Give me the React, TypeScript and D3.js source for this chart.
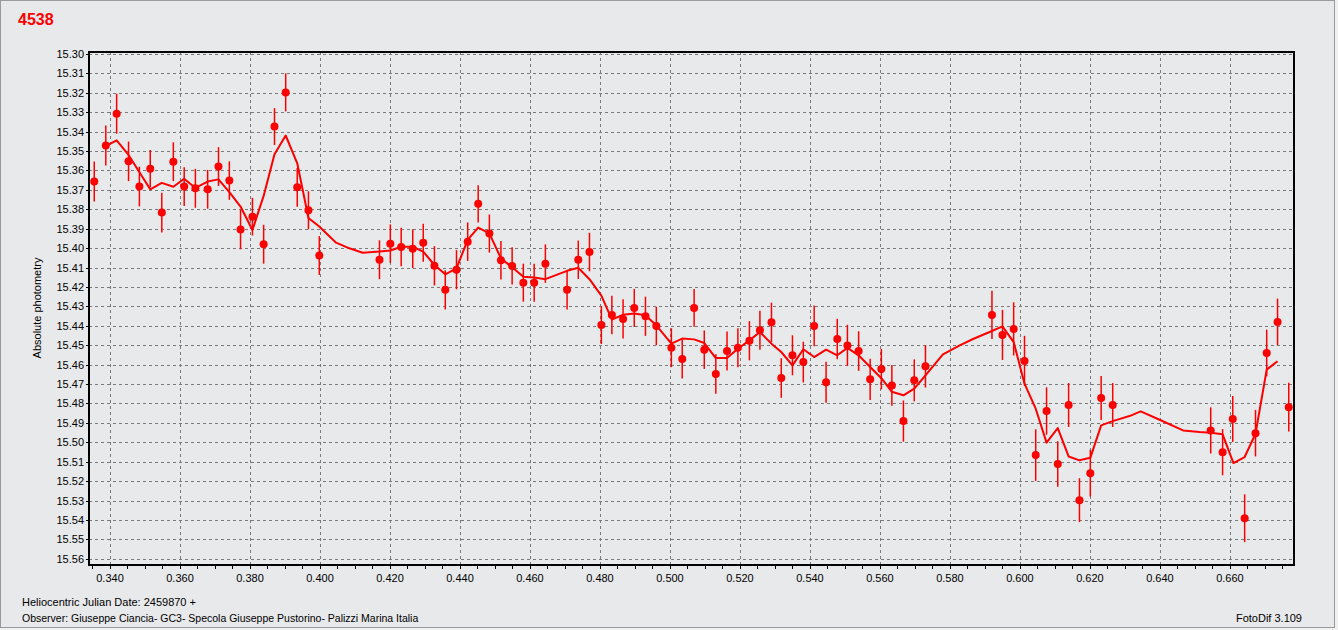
import * as d3 from "d3";

// heliocentric JD offsets (+2459870) and absolute magnitudes
const hjd = [
  0.3355, 0.3388, 0.3419, 0.3453, 0.3484, 0.3515, 0.3548, 0.3581, 0.3612, 0.3644, 0.3679,
  0.371, 0.3741, 0.3773, 0.3807, 0.3839, 0.387, 0.3902, 0.3935, 0.3967, 0.3998,
  0.417, 0.4201, 0.4232, 0.4265, 0.4295, 0.4327, 0.4358, 0.439, 0.4422, 0.4452,
  0.4484, 0.4517, 0.4549, 0.4581, 0.4612, 0.4644, 0.4706, 0.4738, 0.477, 0.4804,
  0.4834, 0.4866, 0.4898, 0.493, 0.4961, 0.5004, 0.5035, 0.5069, 0.5098, 0.5131,
  0.5163, 0.5194, 0.5227, 0.5257, 0.529, 0.5318, 0.535, 0.5381, 0.5412, 0.5446,
  0.5478, 0.5507, 0.5539, 0.5572, 0.5604, 0.5634, 0.5667, 0.5698, 0.573,
  0.592, 0.595, 0.5982, 0.6013, 0.6045, 0.6076, 0.6108, 0.6139, 0.617, 0.6201, 0.6232, 0.6265,
  0.6545, 0.6579, 0.6608, 0.6642, 0.6673, 0.6705, 0.6736, 0.6768,
];

const mag = [
  15.3657, 15.3472, 15.3308, 15.3553, 15.3683, 15.3591, 15.3817, 15.3555, 15.3683, 15.3692, 15.3697,
  15.358, 15.3652, 15.3904, 15.3838, 15.398, 15.3374, 15.3198, 15.3687, 15.3805, 15.4038,
  15.406, 15.3977, 15.3994, 15.4003, 15.3972, 15.4091, 15.4215, 15.4111, 15.3967, 15.3772,
  15.3925, 15.4063, 15.4092, 15.4178, 15.4178, 15.408, 15.4215, 15.406, 15.402, 15.4396,
  15.4344, 15.4365, 15.4308, 15.4351, 15.4401, 15.4513, 15.4571, 15.4308, 15.4523, 15.4648,
  15.453, 15.4513, 15.4477, 15.4423, 15.4382, 15.4669, 15.4552, 15.4587, 15.4401, 15.4691,
  15.4468, 15.4501, 15.453, 15.4676, 15.4623, 15.4707, 15.4891, 15.4681, 15.4609,
  15.4344, 15.4447, 15.4416, 15.4581, 15.5066, 15.4839, 15.5112, 15.4808, 15.5298, 15.5159, 15.4772, 15.4808,
  15.4939, 15.5051, 15.488, 15.5391, 15.4953, 15.454, 15.438, 15.4819,
];

const err = [
  0.0103, 0.0103, 0.0103, 0.0102, 0.0102, 0.0096, 0.0102, 0.01, 0.01, 0.01, 0.01,
  0.01, 0.0099, 0.0102, 0.0097, 0.01, 0.0095, 0.0098, 0.01, 0.0098, 0.01,
  0.01, 0.0099, 0.0099, 0.01, 0.0098, 0.0101, 0.0101, 0.0101, 0.0099, 0.0096,
  0.0098, 0.0099, 0.0096, 0.0098, 0.0098, 0.0099, 0.0101, 0.0099, 0.0099, 0.0098,
  0.0099, 0.0101, 0.0098, 0.0101, 0.0099, 0.01, 0.0101, 0.0097, 0.0099, 0.0102,
  0.01, 0.01, 0.0101, 0.0101, 0.0101, 0.0102, 0.0103, 0.0105, 0.0105, 0.0106,
  0.0104, 0.0106, 0.0102, 0.0106, 0.0104, 0.0105, 0.0106, 0.0108, 0.0109,
  0.0124, 0.0129, 0.0137, 0.0129, 0.0133, 0.0122, 0.0117, 0.0113, 0.0113, 0.012, 0.0113, 0.0113,
  0.0119, 0.0119, 0.0119, 0.0123, 0.012, 0.012, 0.012, 0.0125,
];

// smoothed curve as drawn
const fitT = [
  0.3388, 0.3419, 0.3453, 0.3484, 0.3515, 0.3548, 0.3581, 0.3612, 0.3644, 0.3679, 0.371,
  0.3741, 0.3773, 0.3807, 0.3839, 0.387, 0.3902, 0.3935, 0.3967, 0.3998, 0.4046, 0.4084,
  0.4122, 0.417, 0.4201, 0.4232, 0.4265, 0.4295, 0.4327, 0.4358, 0.439, 0.4422, 0.4452,
  0.4484, 0.4517, 0.4549, 0.4581, 0.4612, 0.4644, 0.4674, 0.4706, 0.4738, 0.477, 0.4804,
  0.4834, 0.4866, 0.4898, 0.493, 0.4961, 0.5004, 0.5035, 0.5069, 0.5098, 0.5131, 0.5163,
  0.5194, 0.5227, 0.5257, 0.529, 0.5318, 0.535, 0.5381, 0.5412, 0.5446, 0.5478, 0.5507,
  0.5539, 0.5572, 0.5604, 0.5634, 0.5667, 0.5698, 0.573, 0.578, 0.5828, 0.5866, 0.592,
  0.595, 0.5982, 0.6013, 0.6045, 0.6076, 0.6108, 0.6139, 0.617, 0.6201, 0.6232, 0.6265,
  0.6313, 0.6345, 0.6399, 0.6466, 0.6513, 0.6545, 0.6579, 0.661, 0.6642, 0.6673, 0.6705, 0.6736,
];

const fitMag = [
  15.3475, 15.3445, 15.352, 15.3609, 15.3697, 15.3664, 15.3684, 15.3643, 15.369, 15.3657, 15.3646,
  15.3712, 15.3786, 15.3907, 15.3731, 15.3517, 15.342, 15.3563, 15.3845, 15.3889, 15.3972, 15.4001,
  15.4024, 15.4018, 15.4012, 15.3993, 15.3993, 15.4018, 15.4087, 15.4135, 15.4104, 15.3958, 15.3894,
  15.3924, 15.4053, 15.4099, 15.4148, 15.4151, 15.416, 15.4139, 15.4117, 15.4101, 15.416, 15.4245,
  15.4368, 15.4343, 15.4337, 15.4346, 15.4398, 15.4492, 15.4466, 15.447, 15.4489, 15.4566, 15.4566,
  15.4518, 15.4475, 15.4432, 15.4492, 15.4535, 15.4604, 15.4521, 15.4561, 15.4523, 15.4552, 15.4514,
  15.4552, 15.4612, 15.467, 15.474, 15.4758, 15.4724, 15.4655, 15.4547, 15.4501, 15.4468, 15.4427,
  15.4403, 15.4484, 15.4698, 15.4827, 15.5002, 15.4927, 15.5073, 15.5093, 15.508, 15.4913, 15.4891,
  15.4865, 15.4841, 15.4884, 15.4939, 15.4947, 15.4951, 15.4959, 15.5107, 15.5076, 15.4956, 15.4626, 15.4583,
];

const yTicks = [
  15.3, 15.31, 15.32, 15.33, 15.34, 15.35, 15.36, 15.37, 15.38, 15.39, 15.4, 15.41, 15.42, 15.43,
  15.44, 15.45, 15.46, 15.47, 15.48, 15.49, 15.5, 15.51, 15.52, 15.53, 15.54, 15.55, 15.56,
];
const xTicks = [
  0.34, 0.36, 0.38, 0.4, 0.42, 0.44, 0.46, 0.48, 0.5, 0.52, 0.54, 0.56, 0.58, 0.6, 0.62, 0.64, 0.66,
];

const W = 1338;
const H = 630;
const plot = { left: 89, top: 52, right: 1294, bottom: 565 };
const font = "'Liberation Sans', Arial, sans-serif";
const red = "#ff0000";

export default function App() {
  const x = d3.scaleLinear().domain([0.334, 0.6783]).range([plot.left, plot.right]);
  const y = d3.scaleLinear().domain([15.299, 15.5632]).range([plot.top, plot.bottom]);

  const minorTicks = d3.range(0.335, 0.678, 0.005);
  const pts = hjd.map((t, i) => ({ t, m: mag[i], e: err[i] }));
  const fit = fitT.map((t, i) => [t, fitMag[i]] as [number, number]);
  const line = d3
    .line<[number, number]>()
    .x((d) => x(d[0]))
    .y((d) => y(d[1]));

  return (
    <svg
      width={W}
      height={H}
      style={{ position: "absolute", left: 0, top: 0, display: "block" }}
      fontFamily={font}
    >
      <rect x={0} y={0} width={W} height={H} fill="#f0f0f0" />
      <rect x={0.5} y={0.5} width={1334} height={627} fill="#e8e9eb" stroke="#9a9a9a" />

      <text x={18} y={25} fill={red} fontSize={16} fontWeight="bold">
        4538
      </text>

      {/* grid */}
      <g stroke="#7a7a7a" strokeDasharray="3,3" strokeWidth={1}>
        {yTicks.map((v) => (
          <line key={v} x1={plot.left} x2={plot.right} y1={Math.round(y(v)) + 0.5} y2={Math.round(y(v)) + 0.5} />
        ))}
        {xTicks.map((v) => (
          <line key={v} y1={plot.top} y2={plot.bottom} x1={Math.round(x(v)) + 0.5} x2={Math.round(x(v)) + 0.5} />
        ))}
      </g>

      {/* y axis ticks and labels */}
      <g fontSize={11} fill="#000">
        {yTicks.map((v) => (
          <g key={v}>
            <line x1={plot.left - 3} x2={plot.left} y1={Math.round(y(v)) + 0.5} y2={Math.round(y(v)) + 0.5} stroke="#000" />
            <text x={84} y={y(v)} textAnchor="end" dominantBaseline="central">
              {d3.format(".2f")(v)}
            </text>
          </g>
        ))}
      </g>

      {/* x axis ticks and labels */}
      <g stroke="#000">
        {minorTicks.map((v) => (
          <line key={v} x1={Math.round(x(v)) + 0.5} x2={Math.round(x(v)) + 0.5} y1={plot.bottom} y2={plot.bottom + 4} />
        ))}
      </g>
      <g fontSize={11} fill="#000">
        {xTicks.map((v) => (
          <text key={v} x={x(v)} y={582} textAnchor="middle">
            {d3.format(".3f")(v)}
          </text>
        ))}
      </g>

      <text
        transform="translate(41,308) rotate(-90)"
        textAnchor="middle"
        fontSize={11}
        fill="#000"
      >
        Absolute photometry
      </text>

      {/* error bars */}
      <g stroke={red} strokeWidth={1.5}>
        {pts.map((p, i) => (
          <line key={i} x1={x(p.t)} x2={x(p.t)} y1={y(p.m - p.e)} y2={y(p.m + p.e)} />
        ))}
      </g>

      <path d={line(fit) ?? ""} fill="none" stroke={red} strokeWidth={2} strokeLinejoin="round" />

      <g fill={red}>
        {pts.map((p, i) => (
          <circle key={i} cx={x(p.t)} cy={y(p.m)} r={4} />
        ))}
      </g>

      <rect
        x={plot.left}
        y={plot.top}
        width={plot.right - plot.left}
        height={plot.bottom - plot.top}
        fill="none"
        stroke="#000"
        strokeWidth={2}
      />

      <g fill="#000">
        <text x={22} y={606} fontSize={11}>
          Heliocentric Julian Date: 2459870 +
        </text>
        <text x={22} y={622} fontSize={10.5}>
          Observer: Giuseppe Ciancia- GC3- Specola Giuseppe Pustorino- Palizzi Marina Italia
        </text>
        <text x={1302} y={622} fontSize={11} textAnchor="end">
          FotoDif 3.109
        </text>
      </g>
    </svg>
  );
}
